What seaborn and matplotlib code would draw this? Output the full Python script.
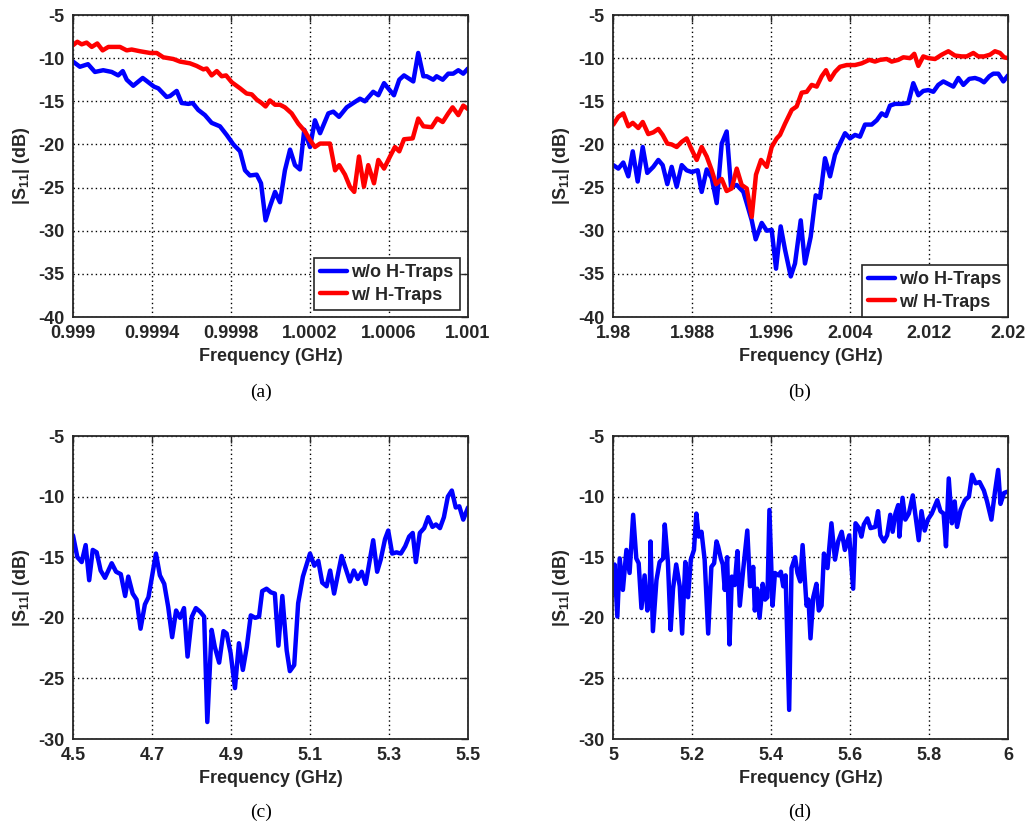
import matplotlib
matplotlib.use("Agg")
import matplotlib.pyplot as plt
import seaborn as sns

# ---------------- (a) around 1 GHz ----------------
A_BLUE_F = [0.99900, 0.999035, 0.999076, 0.999111, 0.999153, 0.999196, 0.999229, 0.999252,
            0.999272, 0.999305, 0.999353, 0.999376, 0.999410, 0.999432, 0.999474, 0.999491,
            0.999525, 0.999550, 0.999584, 0.999606, 0.999634, 0.999668, 0.999702, 0.999744,
            0.999778, 0.999812, 0.999846, 0.999871, 0.999896, 0.999930, 0.999952, 0.999975,
            0.999997, 1.000023, 1.000048, 1.000073, 1.000099, 1.000124, 1.000149, 1.000171,
            1.000200, 1.000225, 1.000251, 1.000293, 1.000318, 1.000347, 1.000386, 1.000419,
            1.000453, 1.000478, 1.000520, 1.000546, 1.000575, 1.000596, 1.000625, 1.000652,
            1.000676, 1.000723, 1.000748, 1.000774, 1.000791, 1.000824, 1.000841, 1.000872,
            1.000900, 1.000925, 1.000951, 1.000976, 1.001000]
A_BLUE_DB = [-10.4, -11.0, -10.7, -11.6, -11.4, -11.6, -12.0, -11.5,
             -12.5, -13.2, -12.3, -12.7, -13.3, -13.5, -14.5, -14.4,
             -13.8, -15.2, -15.3, -15.2, -16.0, -16.6, -17.5, -17.9,
             -18.9, -20.0, -20.8, -23.0, -23.6, -23.5, -24.5, -28.8,
             -27.2, -25.5, -26.7, -23.0, -20.6, -22.4, -22.9, -18.3,
             -20.3, -17.2, -18.7, -16.4, -16.2, -16.8, -15.7, -15.2,
             -14.7, -15.0, -13.9, -14.3, -12.9, -13.5, -14.3, -12.5,
             -12.0, -12.7, -9.4, -12.1, -12.1, -12.5, -12.1, -12.5,
             -11.8, -11.8, -11.4, -11.8, -11.2]

A_RED_F = [0.99900, 0.999022, 0.999044, 0.999069, 0.999095, 0.999123, 0.999150, 0.999179,
           0.999238, 0.999272, 0.999297, 0.999339, 0.999390, 0.999424, 0.999457, 0.999508,
           0.999542, 0.999592, 0.999626, 0.999660, 0.999677, 0.999702, 0.999728, 0.999753,
           0.999775, 0.999804, 0.999846, 0.999879, 0.999905, 0.999930, 0.999955, 0.999975,
           0.999997, 1.000023, 1.000048, 1.000073, 1.000107, 1.000141, 1.000175, 1.000200,
           1.000225, 1.000251, 1.000301, 1.000327, 1.000348, 1.000377, 1.000402, 1.000424,
           1.000448, 1.000473, 1.000495, 1.000524, 1.000546, 1.000575, 1.000605, 1.000630,
           1.000652, 1.000676, 1.000720, 1.000748, 1.000774, 1.000816, 1.000844, 1.000872,
           1.000900, 1.000922, 1.000951, 1.000976, 1.001000]
A_RED_DB = [-8.5, -8.1, -8.4, -8.2, -8.7, -8.3, -9.1, -8.7,
            -8.7, -9.1, -9.0, -9.2, -9.4, -9.4, -9.9, -10.1,
            -10.4, -10.6, -10.9, -11.3, -11.2, -12.0, -11.5, -12.1,
            -12.0, -12.8, -13.5, -14.1, -14.2, -14.8, -15.2, -15.6,
            -14.9, -15.4, -15.4, -15.7, -16.4, -17.6, -18.5, -19.5,
            -20.3, -19.9, -19.9, -23.0, -22.4, -23.5, -24.9, -25.5,
            -21.4, -24.9, -22.4, -24.5, -21.8, -22.8, -21.4, -20.3,
            -20.8, -19.4, -19.3, -17.0, -17.9, -18.0, -17.0, -17.4,
            -16.4, -15.7, -16.6, -15.5, -15.9]

A_XTICKS = [0.999, 0.9994, 0.9998, 1.0002, 1.0006, 1.001]
A_XTICKLABELS = ["0.999", "0.9994", "0.9998", "1.0002", "1.0006", "1.001"]

# ---------------- (b) around 2 GHz ----------------
B_BLUE_F = [1.98003, 1.98054, 1.98104, 1.98155, 1.98200, 1.98250, 1.98301, 1.98347,
            1.98408, 1.98459, 1.98503, 1.98550, 1.98594, 1.98645, 1.98696, 1.98746,
            1.98797, 1.98858, 1.98898, 1.98949, 1.99000, 1.99050, 1.99101, 1.99151,
            1.99195, 1.99253, 1.99320, 1.99354, 1.99405, 1.99445, 1.99506, 1.99557,
            1.99607, 1.99651, 1.99698, 1.99742, 1.99800, 1.99843, 1.99901, 1.99944,
            2.00002, 2.00053, 2.00096, 2.00147, 2.00198, 2.00248, 2.00299, 2.00350,
            2.00400, 2.00451, 2.00501, 2.00552, 2.00620, 2.00671, 2.00721, 2.00765,
            2.00805, 2.00856, 2.00924, 2.00990, 2.01041, 2.01092, 2.01142, 2.01193,
            2.01244, 2.01294, 2.01345, 2.01396, 2.01446, 2.01497, 2.01548, 2.01608,
            2.01666, 2.01717, 2.01757, 2.01811, 2.01851, 2.01902, 2.01953, 2.02000]
B_BLUE_DB = [-22.4, -22.8, -22.1, -23.7, -20.8, -24.3, -20.3, -23.3,
             -22.6, -21.8, -22.4, -24.6, -22.6, -24.9, -22.4, -23.0,
             -23.2, -23.0, -25.5, -22.9, -23.9, -26.8, -19.9, -18.5,
             -24.9, -24.7, -25.5, -26.8, -28.8, -31.0, -29.1, -30.0,
             -29.9, -34.4, -29.5, -32.2, -35.3, -33.8, -28.8, -33.8,
             -30.7, -25.9, -26.2, -21.6, -23.7, -21.2, -19.9, -18.7,
             -19.3, -18.9, -19.1, -17.7, -17.7, -17.2, -16.4, -16.7,
             -15.5, -15.3, -15.3, -15.2, -12.9, -14.3, -13.8, -13.7,
             -13.9, -13.1, -12.7, -13.0, -13.3, -12.3, -13.1, -12.4,
             -12.3, -12.5, -12.8, -12.1, -11.8, -11.8, -12.7, -12.0]

B_RED_F = [1.98003, 1.98054, 1.98104, 1.98155, 1.98200, 1.98256, 1.98301, 1.98357,
           1.98408, 1.98459, 1.98503, 1.98550, 1.98594, 1.98645, 1.98696, 1.98746,
           1.98797, 1.98848, 1.98898, 1.98949, 1.99000, 1.99043, 1.99101, 1.99151,
           1.99202, 1.99253, 1.99303, 1.99354, 1.99405, 1.99448, 1.99499, 1.99557,
           1.99607, 1.99658, 1.99691, 1.99742, 1.99810, 1.99860, 1.99911, 1.99962,
           2.00012, 2.00063, 2.00114, 2.00157, 2.00198, 2.00248, 2.00299, 2.00367,
           2.00451, 2.00519, 2.00596, 2.00653, 2.00704, 2.00772, 2.00822, 2.00889,
           2.00940, 2.01008, 2.01051, 2.01092, 2.01142, 2.01193, 2.01261, 2.01329,
           2.01396, 2.01463, 2.01531, 2.01582, 2.01649, 2.01699, 2.01757, 2.01818,
           2.01868, 2.01919, 2.01960, 2.02000]
B_RED_DB = [-17.7, -16.8, -16.4, -17.9, -17.5, -18.1, -17.4, -18.8,
            -18.6, -18.2, -18.9, -19.9, -20.0, -20.3, -19.7, -19.3,
            -20.6, -21.8, -20.3, -21.4, -23.0, -24.6, -24.0, -25.4,
            -25.1, -22.8, -24.7, -25.1, -28.4, -23.5, -21.8, -22.6,
            -20.3, -19.3, -18.9, -17.6, -16.0, -15.6, -14.0, -13.9,
            -13.1, -13.3, -12.1, -11.4, -12.5, -11.6, -11.0, -10.8,
            -10.8, -10.6, -10.2, -10.4, -10.2, -10.1, -10.4, -10.2,
            -9.9, -10.0, -9.5, -10.9, -9.8, -10.0, -10.1, -9.6,
            -9.2, -9.7, -9.8, -9.8, -9.4, -9.8, -9.8, -9.6,
            -9.2, -9.4, -9.9, -10.0]

B_XTICKS = [1.98, 1.988, 1.996, 2.004, 2.012, 2.02]
B_XTICKLABELS = ["1.98", "1.988", "1.996", "2.004", "2.012", "2.02"]

# ---------------- (c) 4.5 - 5.5 GHz ----------------
C_F = [4.500, 4.511, 4.522, 4.532, 4.541, 4.550, 4.560, 4.570,
       4.581, 4.598, 4.609, 4.621, 4.632, 4.640, 4.651, 4.661,
       4.671, 4.682, 4.691, 4.710, 4.720, 4.731, 4.741, 4.751,
       4.761, 4.771, 4.781, 4.790, 4.801, 4.811, 4.822, 4.832,
       4.840, 4.851, 4.859, 4.870, 4.881, 4.889, 4.899, 4.910,
       4.920, 4.930, 4.940, 4.950, 4.961, 4.971, 4.979, 4.990,
       5.001, 5.011, 5.020, 5.030, 5.041, 5.049, 5.060, 5.070,
       5.082, 5.100, 5.111, 5.121, 5.131, 5.142, 5.151, 5.161,
       5.180, 5.193, 5.201, 5.211, 5.221, 5.231, 5.241, 5.260,
       5.270, 5.279, 5.290, 5.298, 5.308, 5.319, 5.330, 5.341,
       5.351, 5.360, 5.368, 5.378, 5.389, 5.399, 5.410, 5.419,
       5.429, 5.439, 5.449, 5.459, 5.469, 5.478, 5.488, 5.500]
C_DB = [-13.2, -15.0, -15.4, -14.0, -16.9, -14.4, -14.6, -16.1,
        -16.7, -15.5, -16.2, -16.4, -18.2, -16.6, -18.0, -18.5,
        -20.9, -18.9, -18.3, -14.7, -16.5, -17.2, -19.1, -21.6,
        -19.4, -20.0, -19.2, -23.2, -19.9, -19.2, -19.5, -19.9,
        -28.6, -21.0, -22.4, -23.7, -21.1, -21.3, -22.9, -25.8,
        -22.1, -24.3, -22.4, -19.8, -20.0, -19.9, -17.8, -17.6,
        -17.9, -18.0, -22.3, -18.2, -22.7, -24.4, -23.9, -18.8,
        -16.6, -14.7, -15.7, -15.3, -17.1, -17.4, -16.1, -18.0,
        -14.9, -16.2, -17.0, -16.1, -16.8, -16.2, -17.2, -13.6,
        -16.2, -15.2, -13.5, -12.8, -14.7, -14.6, -14.7, -14.1,
        -13.3, -13.0, -15.4, -13.0, -12.6, -11.7, -12.5, -12.3,
        -12.6, -11.7, -10.0, -9.5, -10.9, -10.8, -11.9, -10.9]

C_XTICKS = [4.5, 4.7, 4.9, 5.1, 5.3, 5.5]
C_XTICKLABELS = ["4.5", "4.7", "4.9", "5.1", "5.3", "5.5"]

# ---------------- (d) 5 - 6 GHz ----------------
D_F = [5.000, 5.004, 5.011, 5.017, 5.025, 5.034, 5.042, 5.051,
       5.059, 5.065, 5.072, 5.080, 5.087, 5.093, 5.095, 5.101,
       5.110, 5.118, 5.127, 5.131, 5.139, 5.146, 5.152, 5.160,
       5.169, 5.175, 5.183, 5.190, 5.197, 5.205, 5.211, 5.217,
       5.224, 5.232, 5.241, 5.249, 5.256, 5.262, 5.266, 5.273,
       5.278, 5.283, 5.289, 5.295, 5.301, 5.308, 5.315, 5.321,
       5.330, 5.340, 5.347, 5.355, 5.359, 5.365, 5.371, 5.379,
       5.385, 5.391, 5.396, 5.404, 5.410, 5.419, 5.425, 5.431,
       5.437, 5.446, 5.452, 5.461, 5.467, 5.474, 5.480, 5.490,
       5.495, 5.500, 5.507, 5.515, 5.521, 5.528, 5.534, 5.543,
       5.553, 5.562, 5.570, 5.579, 5.587, 5.598, 5.608, 5.614,
       5.623, 5.629, 5.635, 5.644, 5.652, 5.664, 5.671, 5.677,
       5.686, 5.694, 5.702, 5.708, 5.715, 5.722, 5.725, 5.733,
       5.740, 5.749, 5.759, 5.765, 5.774, 5.781, 5.789, 5.797,
       5.807, 5.821, 5.829, 5.837, 5.843, 5.850, 5.858, 5.865,
       5.871, 5.880, 5.891, 5.901, 5.909, 5.918, 5.928, 5.939,
       5.947, 5.958, 5.967, 5.975, 5.981, 5.990, 5.998]
D_DB = [-18.0, -15.6, -19.9, -15.1, -17.7, -14.4, -16.3, -11.5,
        -15.1, -15.5, -19.2, -16.5, -19.4, -18.1, -13.7, -21.1,
        -16.9, -15.4, -15.1, -12.3, -15.4, -21.0, -17.6, -15.6,
        -17.4, -21.3, -15.4, -18.3, -15.2, -14.4, -11.4, -13.3,
        -12.9, -15.2, -21.3, -15.8, -15.5, -13.7, -14.1, -15.1,
        -15.6, -17.7, -15.0, -22.2, -16.6, -17.3, -14.5, -19.0,
        -15.9, -12.8, -17.4, -15.8, -19.4, -17.6, -20.0, -17.2,
        -18.5, -18.3, -11.1, -19.0, -16.3, -16.5, -16.2, -17.4,
        -16.5, -27.6, -15.9, -15.0, -16.3, -17.0, -14.0, -19.0,
        -18.5, -21.7, -18.3, -17.2, -19.4, -19.0, -14.7, -15.9,
        -12.2, -15.2, -13.7, -12.9, -14.4, -13.2, -17.6, -12.2,
        -12.6, -13.3, -12.3, -11.8, -12.6, -12.5, -11.2, -13.2,
        -13.7, -13.2, -11.5, -12.9, -11.4, -10.7, -13.3, -10.1,
        -11.9, -11.4, -9.9, -11.4, -13.6, -11.2, -12.8, -11.9,
        -11.4, -10.3, -11.2, -11.4, -14.1, -8.5, -12.2, -10.4,
        -12.5, -11.1, -10.3, -10.0, -8.2, -8.9, -8.8, -9.5,
        -10.4, -11.9, -9.6, -7.8, -10.6, -9.7, -9.6]

D_XTICKS = [5.0, 5.2, 5.4, 5.6, 5.8, 6.0]
D_XTICKLABELS = ["5", "5.2", "5.4", "5.6", "5.8", "6"]

TOP_YTICKS = [-40, -35, -30, -25, -20, -15, -10, -5]
BOTTOM_YTICKS = [-30, -25, -20, -15, -10, -5]

LABEL_WO = "w/o H-Traps"
LABEL_W = "w/ H-Traps"
CAPTIONS = ["(a)", "(b)", "(c)", "(d)"]

# ---------------- styling ----------------
sns.set_style("white")
plt.rcParams["font.family"] = ["Liberation Sans", "DejaVu Sans"]
plt.rcParams["font.weight"] = "bold"
plt.rcParams["axes.unicode_minus"] = False
plt.rcParams["mathtext.fontset"] = "custom"
plt.rcParams["mathtext.rm"] = "Liberation Sans:bold"
plt.rcParams["mathtext.it"] = "Liberation Sans:bold"
plt.rcParams["mathtext.bf"] = "Liberation Sans:bold"

W, H = 1027, 826
fig = plt.figure(figsize=(W / 100, H / 100), dpi=100)
INK = "#262626"
LW = 3.2


def make_axes(left_px, top_px, w_px=395, h_px=303):
    return fig.add_axes([left_px / W, 1 - (top_px + h_px) / H, w_px / W, h_px / H])


def style(ax, xticks, xlabels, yticks):
    ax.set_xlim(xticks[0], xticks[-1])
    ax.set_ylim(yticks[0], yticks[-1])
    ax.set_xticks(xticks, xlabels)
    ax.set_yticks(yticks)
    ax.grid(True, color="black", linestyle=(0, (1, 2.2)), linewidth=1.0)
    ax.set_axisbelow(True)
    ax.tick_params(direction="in", length=5, width=1, labelsize=13, pad=6,
                   colors=INK, top=True, right=True)
    for lab in ax.get_xticklabels() + ax.get_yticklabels():
        lab.set_fontweight("bold")
    for s in ax.spines.values():
        s.set_color(INK)
        s.set_linewidth(1.3)
    ax.set_xlabel("Frequency (GHz)", fontsize=13, fontweight="bold", color=INK, labelpad=4)
    ax.set_ylabel(r"|S$_{11}$| (dB)", fontsize=13, fontweight="bold", color=INK)
    ax.yaxis.set_label_coords(-0.104, 0.5)


def legend(ax, anchor):
    leg = ax.legend(loc="lower right", bbox_to_anchor=anchor, borderaxespad=0,
                    frameon=True, fancybox=False, framealpha=1, edgecolor=INK,
                    prop={"weight": "bold", "size": 13}, handlelength=1.5,
                    handletextpad=0.25, labelspacing=0.3, borderpad=0.35)
    leg.get_frame().set_linewidth(1.2)


ax_a = make_axes(73, 15, h_px=302)
sns.lineplot(x=A_BLUE_F, y=A_BLUE_DB, color="blue", linewidth=LW, label=LABEL_WO,
             estimator=None, sort=False, ax=ax_a)
sns.lineplot(x=A_RED_F, y=A_RED_DB, color="red", linewidth=LW, label=LABEL_W,
             estimator=None, sort=False, ax=ax_a)
style(ax_a, A_XTICKS, A_XTICKLABELS, TOP_YTICKS)
legend(ax_a, (0.98, 0.023))

ax_b = make_axes(613, 15, h_px=302)
sns.lineplot(x=B_BLUE_F, y=B_BLUE_DB, color="blue", linewidth=LW, label=LABEL_WO,
             estimator=None, sort=False, ax=ax_b)
sns.lineplot(x=B_RED_F, y=B_RED_DB, color="red", linewidth=LW, label=LABEL_W,
             estimator=None, sort=False, ax=ax_b)
style(ax_b, B_XTICKS, B_XTICKLABELS, TOP_YTICKS)
legend(ax_b, (1.0, 0.0))

ax_c = make_axes(73, 436)
sns.lineplot(x=C_F, y=C_DB, color="blue", linewidth=LW, estimator=None, sort=False, ax=ax_c)
style(ax_c, C_XTICKS, C_XTICKLABELS, BOTTOM_YTICKS)

ax_d = make_axes(613, 436)
sns.lineplot(x=D_F, y=D_DB, color="blue", linewidth=LW, estimator=None, sort=False, ax=ax_d)
style(ax_d, D_XTICKS, D_XTICKLABELS, BOTTOM_YTICKS)

for cap, (cx, cy) in zip(CAPTIONS, [(261, 392), (800, 392), (261, 812), (800, 812)]):
    fig.text(cx / W, 1 - cy / H, cap, family="Liberation Serif", fontweight="normal",
             fontsize=14, ha="center", va="center", color="black")

fig.savefig("out.png", dpi=100, facecolor="white")
